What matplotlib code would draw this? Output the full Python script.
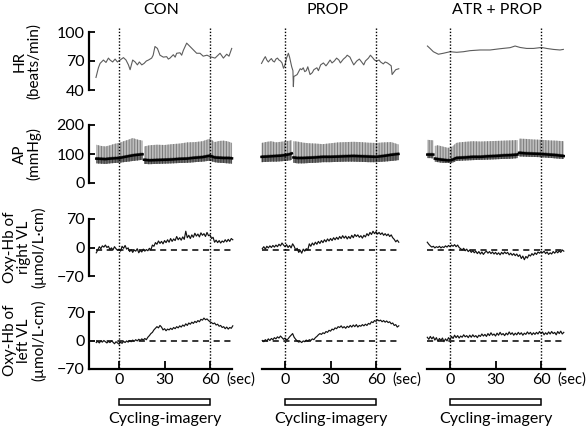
import matplotlib
matplotlib.use("Agg")
import matplotlib.pyplot as plt
import matplotlib.transforms as mtransforms
from matplotlib.patches import Rectangle
from matplotlib.lines import Line2D
import numpy as np

plt.rcParams['font.family'] = ['Lato', 'DejaVu Sans']
plt.rcParams['hatch.linewidth'] = 0.7

nan = np.nan
groups = ['CON', 'PROP', 'ATR + PROP']
title_x = [28, 28, 31]

# ---- heart rate (beats/min) ----
hr_con_t = [-15.2, -13.6, -12.5, -10.3, -8.6, -7.0, -5.9, -4.2, -2.6, -1.1, 0.7, 2.9, 4.6, 6.2, 7.3,
            9.0, 10.6, 12.1, 13.4, 15.0, 16.5, 18.0, 19.4, 21.5, 22.5, 23.7, 25.3, 27.0, 29.2, 31.4,
            32.5, 33.6, 35.8, 37.0, 38.0, 40.2, 41.3, 42.4, 44.6, 46.8, 49.0, 51.2, 53.4, 55.5,
            58.0, 60.0, 63.3, 66.6, 68.8, 71.0, 72.5, 74.3]
hr_con = [53, 63, 67.5, 71, 68.5, 73, 71, 69, 72, 69, 71, 73.5, 71, 66, 61,
          71, 69, 66, 69, 66, 67.5, 70, 71, 73, 76, 85, 83, 76, 74, 74.5,
          72, 73, 76.5, 74, 78, 78.5, 76, 81, 88.5, 85, 81.5, 78, 78, 75,
          76, 74.5, 73, 78, 73, 77, 75, 83]

hr_prop_t = [-15.5, -14, -13, -12, -11, -10, -9, -8, -7, -6, -5, -4, -3, -2, -1, 0, 1, 2.2, 3, 4.4,
             5.2, 5.5, 5.8, 7, 8, 9, 10, 11, 12, 13, 14, 15, 16.5, 18, 19, 21, 22, 23.5, 25.3, 27,
             28, 29.7, 31, 32.5, 34, 35.5, 36.5, 38.5, 40, 41, 42.8, 44, 45.3, 47.3, 49, 50.5, 51.9,
             53, 55, 56.3, 58, 59, 60.4, 62, 63, 64.8, 66, 67.5, 69.2, 70, 70.6, 71.5, 73, 75]
hr_prop = [67.5, 72, 74.5, 71, 69, 71, 72.5, 70, 69, 72, 73, 71, 70, 68, 62.5, 66, 73, 78, 74, 64,
           60, 43.5, 54, 55, 56, 59, 62, 61, 63, 59, 60, 64, 56, 58, 61, 63, 60, 66, 68, 65,
           67, 71, 68, 70, 73, 71, 68, 72, 74, 76, 74, 70, 66, 70, 72, 69, 66,
           70, 73, 76, 73, 71, 70, 71, 69, 67, 69, 68, 66, 65, 56, 58, 61, 62]

hr_atr_t = [-14.9, -13.2, -11, -7.7, -4.4, 0, 4.4, 8.8, 13.2, 19.8, 26.4, 33, 39.6, 42.9, 46.2,
            50.5, 55, 60.4, 63.7, 68.1, 72.5, 74.7]
hr_atr = [85.5, 83, 79.6, 77, 78, 79.6, 79, 79.6, 80.7, 81.4, 81.4, 82.7, 83.8, 85.5, 84,
          83, 83, 84, 83, 82, 81.4, 82]

# ---- arterial pressure (mmHg): systolic, mean, diastolic envelopes ----
ap_con_t = [-15, -12, -9, -6, -3, 0, 3, 6, 9, 12, 15.5, 16, 16.5, 20, 25, 30, 35, 40, 45, 50,
            55, 60, 63, 66, 69, 72, 74.5]
ap_con_sys = [132, 128, 126, 130, 135, 138, 144, 149, 155, 150, 146, nan, 126, 130, 132, 131, 134,
              136, 140, 141, 144, 153, 141, 145, 146, 143, 138]
ap_con_mean = [84, 83, 82, 84, 85, 86, 89, 92, 95, 97, 99, nan, 80, 78, 79, 80, 81, 83, 84, 87,
               89, 94, 88, 87, 86, 86, 85]
ap_con_dia = [68, 67, 66, 68, 69, 70, 72, 74, 76, 78, 80, nan, 66, 65, 66, 67, 68, 69, 70, 72,
              74, 77, 72, 70, 69, 68, 67]

ap_prop_t = [-15.5, -12, -9, -6, -3, 0, 3, 4.5, 5, 5.5, 8, 12, 16, 20, 25, 30, 35, 40, 45, 50,
             55, 60, 65, 70, 74.8]
ap_prop_sys = [138, 142, 144, 140, 142, 144, 146, 148, nan, 144, 143, 139, 137, 136, 134, 137,
               140, 141, 142, 141, 139, 138, 140, 141, 133]
ap_prop_mean = [90, 91, 92, 93, 94, 96, 99, 102, nan, 88, 86, 86, 87, 88, 90, 90, 91, 92, 93,
                92, 91, 90, 93, 97, 100]
ap_prop_dia = [72, 73, 74, 74, 75, 76, 78, 80, nan, 70, 68, 68, 69, 70, 72, 72, 73, 74, 74, 73,
               72, 72, 74, 76, 79]

ap_atr_t = [-15, -13, -11, -10.5, -10, -8, -5, -2, 0, 2, 4, 6, 10, 15, 20, 25, 30, 35, 40, 44.5,
            45, 45.5, 50, 55, 60, 65, 70, 75]
ap_atr_sys = [149, 148, 147, nan, 128, 130, 126, 122, 121, 128, 138, 140, 142, 144, 143, 144, 145,
              146, 147, 148, nan, 153, 152, 150, 149, 147, 146, 144]
ap_atr_mean = [98, 98, 98, nan, 84, 82, 80, 78, 78, 81, 86, 87, 88, 90, 90, 92, 93, 95, 96,
               98, nan, 104, 102, 101, 100, 98, 96, 93]
ap_atr_dia = [86, 86, 85, nan, 74, 72, 70, 69, 69, 71, 76, 77, 78, 79, 80, 81, 82, 83, 84, 86,
              nan, 92, 91, 90, 89, 87, 85, 83]

# ---- Oxy-Hb (umol/L*cm), one value per second from -15 s to 75 s ----
oxr_con = [-13, -6, 2, -3, 4, 1, 6, 0, 3, -5, -1, -6, 2, -3, -7, -4, -9, 3, -2, 5,
           -4, -1, -10, -5, -12, -6, -9, -3, -13, -7, -11, -4, -9, -5, -8, -2, -6, 6, 3, 12,
           8, 16, 10, 15, 9, 17, 12, 19, 13, 22, 15, 21, 17, 27, 19, 24, 18, 26, 20, 40,
           24, 30, 22, 31, 25, 35, 28, 33, 26, 36, 30, 34, 27, 37, 29, 31, 22, 25, 13, 18,
           12, 17, 11, 16, 13, 19, 14, 20, 15, 22, 19]
oxl_con = [-5, -2, -6, -1, -4, 0, -3, -6, -2, -5, -1, -4, -8, -3, -6, -9, -4, -7, -2, -5,
           -1, -4, 0, -3, 1, -2, 2, -1, 3, 0, 4, 1, 5, 2, 8, 12, 17, 20, 26, 30,
           34, 31, 37, 33, 26, 29, 24, 28, 26, 30, 27, 32, 29, 34, 31, 36, 33, 38, 35, 41,
           37, 43, 40, 45, 42, 47, 44, 49, 46, 52, 50, 55, 51, 53, 49, 46, 44, 41, 43, 38,
           40, 35, 37, 32, 34, 29, 33, 28, 32, 30, 36]
oxr_prop = [-3, 2, -4, 3, -1, 4, 0, 5, 1, 6, 2, 8, 4, 11, 6, 2, 7, 0, 5, -1,
            9, 3, -6, -2, -12, -7, -14, -4, -9, -3, -6, 9, 3, 11, 6, 13, 8, 15, 10, 17,
            12, 19, 14, 21, 16, 22, 17, 24, 19, 25, 20, 27, 22, 29, 23, 28, 21, 27, 22, 30,
            24, 32, 27, 31, 25, 29, 23, 30, 26, 34, 29, 37, 32, 40, 34, 39, 33, 37, 32, 36,
            30, 34, 29, 33, 27, 31, 24, 20, 14, 18, 13]
oxl_prop = [0, -3, 2, -1, 4, 0, 5, 2, 7, 4, 9, 6, 11, 7, 3, 6, 1, 4, 9, 13,
            17, 8, 3, -1, -4, -2, -5, -1, -3, 1, -2, 2, 0, 4, 2, 7, 10, 14, 17, 15,
            19, 17, 22, 20, 25, 23, 28, 26, 31, 29, 34, 32, 36, 31, 34, 30, 35, 32, 37, 33,
            38, 34, 39, 33, 37, 35, 39, 36, 40, 37, 42, 40, 46, 44, 49, 47, 51, 48, 50, 46,
            49, 45, 48, 44, 46, 41, 43, 37, 39, 33, 36]
oxr_atr = [13, 8, 4, 1, 3, -1, 2, 0, 3, -1, 2, 0, 4, 1, 5, 2, 6, 3, 7, 2,
           6, 0, -3, -6, -2, -8, -4, -10, -6, -12, -8, -13, -9, -15, -10, -16, -11, -17, -12, -9,
           -14, -10, -15, -11, -16, -12, -17, -13, -18, -12, -16, -11, -15, -12, -18, -14, -19, -15, -20, -16,
           -22, -18, -27, -21, -30, -22, -26, -18, -21, -15, -19, -13, -17, -11, -14, -10, -13, -9, -15, -11,
           -17, -13, -16, -10, -14, -9, -13, -8, -12, -6, -9]
oxl_atr = [8, 3, 10, 4, 9, 1, 7, -2, 5, 0, 6, -3, 4, -1, 7, 2, 10, 5, 13, 7,
           12, 6, 11, 8, 14, 9, 12, 7, 13, 8, 14, 9, 12, 7, 13, 10, 16, 11, 15, 10,
           17, 12, 19, 13, 16, 11, 18, 13, 20, 14, 17, 12, 18, 14, 21, 15, 19, 13, 18, 14,
           20, 15, 19, 13, 18, 15, 21, 16, 20, 14, 19, 15, 20, 16, 22, 17, 21, 14, 19, 15,
           21, 16, 22, 17, 20, 14, 22, 17, 23, 16, 20]

hr_sets = [(hr_con_t, hr_con), (hr_prop_t, hr_prop), (hr_atr_t, hr_atr)]
ap_sets = [(ap_con_t, ap_con_sys, ap_con_mean, ap_con_dia),
           (ap_prop_t, ap_prop_sys, ap_prop_mean, ap_prop_dia),
           (ap_atr_t, ap_atr_sys, ap_atr_mean, ap_atr_dia)]
oxr_sets = [oxr_con, oxr_prop, oxr_atr]
oxl_sets = [oxl_con, oxl_prop, oxl_atr]
oxr_base = -7   # dashed baseline of right VL row
oxl_base = 0

W, H = 587, 428
fig = plt.figure(figsize=(W / 100, H / 100), dpi=100)

def fx(px):
    return px / W

def fy(px):
    return 1 - px / H

col_left = [88.7, 254.7, 419.7]
col_w = 145.6
rows = [(32, 90, (40, 100), [40, 70, 100], 'HR\n(beats/min)'),
        (125, 183, (0, 200), [0, 100, 200], 'AP\n(mmHg)'),
        (219, 276, (-70, 70), [-70, 0, 70], 'Oxy-Hb of\nright VL\n(µmol/L·cm)'),
        (312, 369, (-70, 70), [-70, 0, 70], 'Oxy-Hb of\nleft VL\n(µmol/L·cm)')]
label_x = [27, 27, 25, 25]

axes = []
for r, (top, bot, ylim, yt, lab) in enumerate(rows):
    row_axes = []
    for c in range(3):
        ax = fig.add_axes([fx(col_left[c]), fy(bot), fx(col_w), (bot - top) / H])
        ax.set_xlim(-20, 76)
        ax.set_ylim(*ylim)
        ax.patch.set_alpha(0)
        for s in ['top', 'right']:
            ax.spines[s].set_visible(False)
        ax.tick_params(direction='in', length=4, width=1.3, labelsize=11.5, pad=3)
        if c == 0:
            ax.spines['left'].set_linewidth(1.6)
            ax.set_yticks(yt)
            ax.set_yticklabels([str(v).replace('-', '\u2212') for v in yt])
        else:
            ax.spines['left'].set_visible(False)
            ax.set_yticks([])
        if r == 3:
            ax.spines['bottom'].set_linewidth(1.6)
            ax.spines['bottom'].set_bounds(-20 if c == 0 else -15, 74.5 if c == 0 else 76)
            ax.set_xticks([0, 30, 60])
            ax.tick_params(axis='x', length=6, pad=3)
        else:
            ax.spines['bottom'].set_visible(False)
            ax.set_xticks([])
        row_axes.append(ax)
    axes.append(row_axes)
    fig.text(fx(label_x[r]), fy((top + bot) / 2), lab, rotation=90, ha='center', va='center',
             multialignment='center', fontsize=11, linespacing=1.0)

for c in range(3):
    # heart rate
    t, v = hr_sets[c]
    axes[0][c].plot(t, v, color='#5c5c5c', lw=0.8)

    # arterial pressure
    t, sysv, meanv, diav = ap_sets[c]
    ax = axes[1][c]
    ax.fill_between(t, diav, sysv, facecolor='#bdbdbd', edgecolor='#7a7a7a', hatch='||||||', lw=0)
    ax.fill_between(t, diav, np.array(meanv) + 6, facecolor='#6e6e6e', edgecolor='#3a3a3a',
                    hatch='||||||', lw=0)
    ax.plot(t, meanv, color='black', lw=1.8)

    # oxy-Hb
    for r, vals, base in [(2, oxr_sets[c], oxr_base), (3, oxl_sets[c], oxl_base)]:
        ax = axes[r][c]
        tt = np.linspace(-15, 75, len(vals))
        ax.plot([-15, 76], [base, base], color='black', lw=1.1, ls=(0, (4, 3)))
        ax.plot(tt, vals, color='#111111', lw=0.85)

    # column title, dotted markers, cycling-imagery bar
    bax = axes[3][c]
    tr = mtransforms.blended_transform_factory(bax.transData, fig.transFigure)
    fig.text(title_x[c], fy(10), groups[c], transform=tr, fontsize=11.5, ha='center', va='center')
    for xv in [0, 60]:
        fig.add_artist(Line2D([xv, xv], [fy(28), fy(369)], transform=tr, color='black',
                              lw=1.0, ls=(0, (1, 1.3))))
    fig.add_artist(Rectangle((0, fy(405)), 60, 6 / H, transform=tr, facecolor='white',
                             edgecolor='black', lw=1.1))
    fig.text(30, fy(419), 'Cycling-imagery', transform=tr, fontsize=11.5, ha='center', va='center')
    fig.text(70.5, fy(380), '(sec)', transform=tr, fontsize=10.5, ha='left', va='center')

fig.savefig('out.png', dpi=100)
